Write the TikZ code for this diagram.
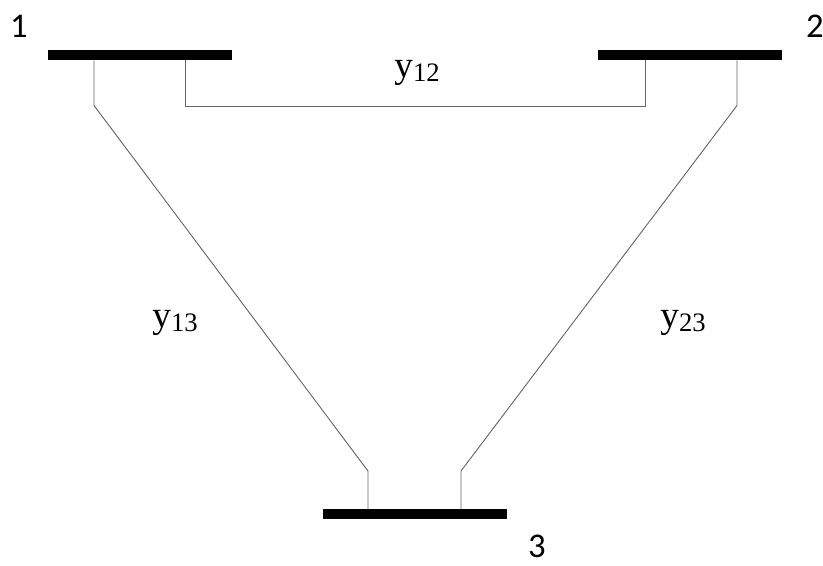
\documentclass[tikz,border=0pt]{standalone}
\usepackage{fontspec}
\setmainfont{Liberation Serif}
\newfontfamily\busfont{Carlito}
\usetikzlibrary{positioning,calc}
\newcommand{\admit}[1]{{\fontsize{28}{30}\selectfont y}\raisebox{-3pt}{\fontsize{20}{22}\selectfont #1}}
\tikzset{
  every node/.style={inner sep=0pt,outer sep=0pt},
  busbar/.style={draw=none,fill=black,minimum width=138pt,minimum height=7.5pt},
  busnum/.style={font=\busfont\fontsize{26}{28}\selectfont,anchor=base,text depth=0pt},
  tie/.style={draw=black!60,line width=0.7pt},
  admlabel/.style={anchor=base},
}

\begin{document}
\begin{tikzpicture}[x=0.75pt,y=-0.75pt]
  \useasboundingbox (0,0) rectangle (823,566);
  % buses
  \node[busbar] (bus1) at (140,55.5) {};
  \node[busbar] (bus2) at (690,55.5) {};
  \node[busbar] (bus3) at (415,514) {};
  \node[busnum] (n1) at (19,38) {1};
  \node[busnum] (n2) at (815,38) {2};
  \node[busnum] (n3) at (537,557) {3};

  % lines
  \draw[tie] ([xshift=33.75pt]bus1.south) -- ++(0,46) -| ([xshift=-33.75pt]bus2.south);
  \draw[tie] ([xshift=-34.5pt]bus1.south) -- ++(0,45)
    -- ($([xshift=-35.25pt]bus3.north)+(0,-38)$) -- ([xshift=-35.25pt]bus3.north);
  \draw[tie] ([xshift=35.25pt]bus2.south) -- ++(0,45)
    -- ($([xshift=34.5pt]bus3.north)+(0,-38)$) -- ([xshift=34.5pt]bus3.north);

  % admittances
  \node[admlabel] (y12) at (417,78) {\admit{12}};
  \node[admlabel] (y13) at (175,327) {\admit{13}};
  \node[admlabel] (y23) at (683,327) {\admit{23}};
\end{tikzpicture}
\end{document}
